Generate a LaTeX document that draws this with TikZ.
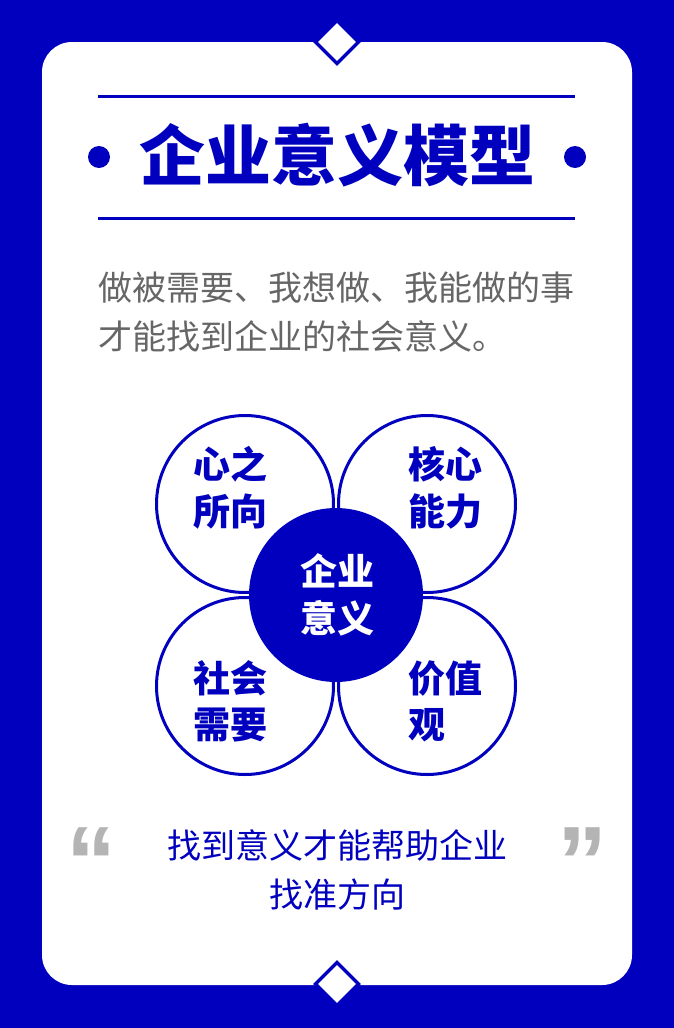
\documentclass[tikz,border=0pt]{standalone}
\usepackage{fontspec}
\newfontfamily\cjk{Noto Sans CJK SC}
\newfontfamily\quotefont{Liberation Sans}
\definecolor{mainblue}{RGB}{0,0,190}
\definecolor{bodygray}{RGB}{102,102,102}
\definecolor{quotegray}{RGB}{180,180,180}
\begin{document}
\begin{tikzpicture}[x=1pt,y=-1pt,
  card/.style={fill=white,rounded corners=30pt},
  gem/.style={fill=white,draw=mainblue,line width=3.5pt,line join=miter},
  rule/.style={draw=mainblue,line width=3pt},
  dot/.style={circle,fill=mainblue,inner sep=0pt,minimum size=22pt},
  petal/.style={circle,draw=mainblue,fill=white,line width=3pt,inner sep=0pt,minimum size=177pt},
  core/.style={circle,fill=mainblue,inner sep=0pt,minimum size=174pt},
  lab/.style={inner sep=0pt,anchor=base west,text=mainblue,font=\cjk\bfseries\fontsize{37}{37}\selectfont},
  corelab/.style={inner sep=0pt,anchor=base,text=white,font=\cjk\bfseries\fontsize{37}{37}\selectfont},
  bodytxt/.style={inner sep=0pt,anchor=base west,text=bodygray,font=\cjk\fontsize{34}{34}\selectfont},
  quotetxt/.style={inner sep=0pt,anchor=base,text=mainblue,font=\cjk\fontsize{34}{34}\selectfont},
  qmark/.style={inner sep=0pt,anchor=center,text=quotegray,font=\quotefont\bfseries\fontsize{100}{100}\selectfont}]
\fill[mainblue] (0,0) rectangle (674,1028);
\useasboundingbox (0,0) rectangle (674,1028);
\fill[card] (42,42) rectangle (632,985);
% diamonds
\draw[gem] (337,20.5) -- (358.5,42) -- (337,63.5) -- (315.5,42) -- cycle;
\draw[gem] (337,962.5) -- (358.5,984) -- (337,1005.5) -- (315.5,984) -- cycle;
% title block
\coordinate (r1a) at (98,96); \coordinate (r1b) at (575,96);
\coordinate (r2a) at (98,218); \coordinate (r2b) at (575,218);
\draw[rule] (r1a) -- (r1b);
\draw[rule] (r2a) -- (r2b);
\node[dot] (dl) at (99,157) {};
\node[dot] (dr) at (575,157) {};
\node[inner sep=0pt,anchor=base,text=mainblue,font=\cjk\bfseries\fontsize{66}{66}\selectfont] (title) at (337,180) {企业意义模型};
% body
\node[bodytxt] (b1) at (98,300) {做被需要、我想做、我能做的事};
\node[bodytxt] (b2) at (98,349) {才能找到企业的社会意义。};
% circles
\node[petal] (tl) at (245,504) {};
\node[petal] (tr) at (427,504) {};
\node[petal] (bl) at (245,686) {};
\node[petal] (br) at (427,686) {};
\node[core] (c) at (336,595) {};
\node[lab] (tl1) at (193,478) {心之};
\node[lab] (tl2) at (193,525) {所向};
\node[lab] (tr1) at (408,478) {核心};
\node[lab] (tr2) at (408,525) {能力};
\node[lab] (bl1) at (193,692) {社会};
\node[lab] (bl2) at (193,738) {需要};
\node[lab] (br1) at (408,692) {价值};
\node[lab] (br2) at (408,738) {观};
\node[corelab] (c1) at (337,585) {企业};
\node[corelab] (c2) at (337,632) {意义};
% quote
\node[quotetxt] (q1) at (337,858) {找到意义才能帮助企业};
\node[quotetxt] (q2) at (337,907) {找准方向};
\node[qmark] (ql) at (91,862) {“};
\node[qmark] (qr) at (582,862) {”};
\end{tikzpicture}
\end{document}
